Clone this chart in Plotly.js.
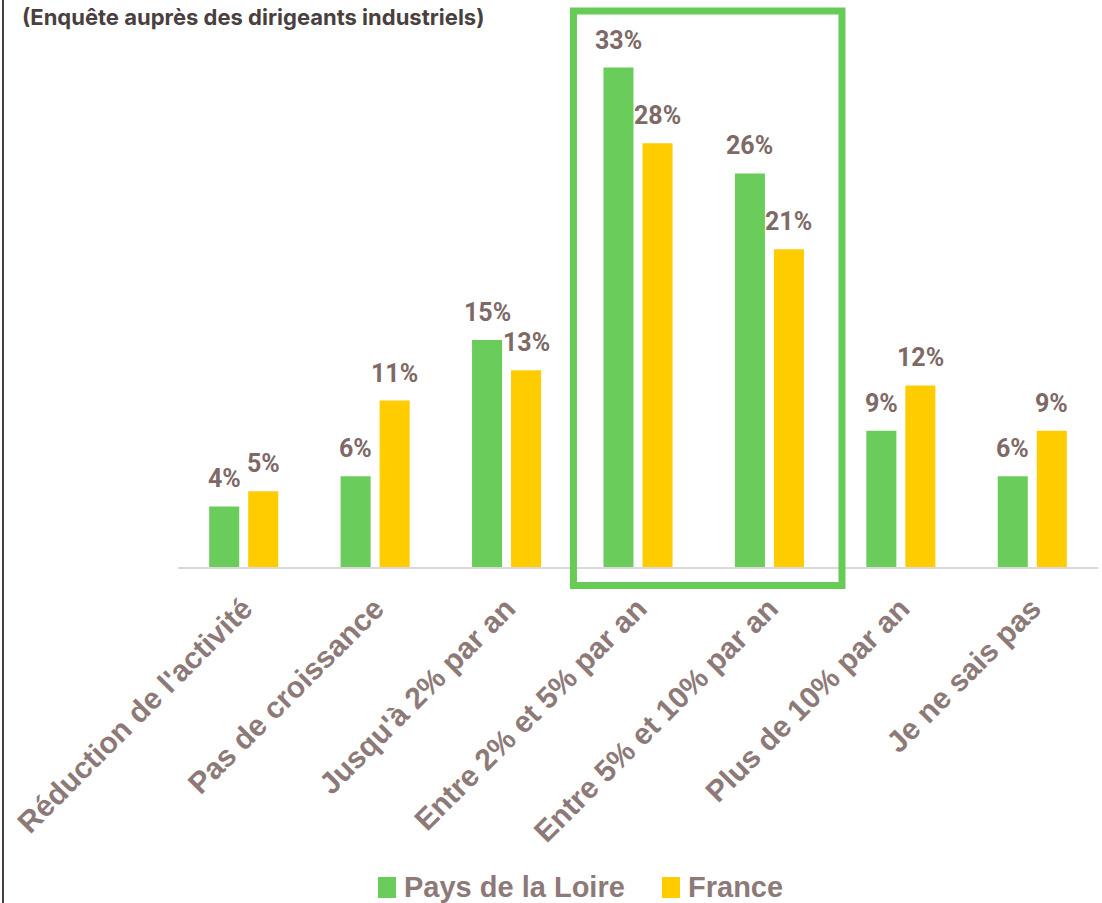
<!DOCTYPE html>
<html>
<head>
<meta charset="utf-8">
<script src="https://cdn.plot.ly/plotly-3.0.1.min.js"></script>
<style>
  html, body { margin: 0; padding: 0; background: #ffffff; }
  #chart { width: 1102px; height: 903px; }
</style>
</head>
<body>
<div id="chart"></div>
<script>
// Croissance attendue de l'activité — enquête régionale vs nationale
const categories = [
  "Réduction de l'activité",
  "Pas de croissance",
  "Jusqu'à 2% par an",
  "Entre 2% et 5% par an",
  "Entre 5% et 10% par an",
  "Plus de 10% par an",
  "Je ne sais pas"
];
const paysDeLaLoire = [4, 6, 15, 33, 26, 9, 6];
const france = [5, 11, 13, 28, 21, 12, 9];
const seriesNames = ["Pays de la Loire", "France"];
const subtitle = "(Enquête auprès des dirigeants industriels)";
const highlighted = ["Entre 2% et 5% par an", "Entre 5% et 10% par an"];

const W = 1102, H = 903;
const M = { l: 178, r: 4, t: 35, b: 336, autoexpand: false };
const plotW = W - M.l - M.r;
const plotH = H - M.t - M.b;
const yMax = 35.15;

const GREEN = '#6acd5b';
const YELLOW = '#ffcc00';
const LABEL = '#7e6967';
const TICK = '#8d7a78';
const DARK = '#4a3f3f';

const pxToPaperX = px => (px - M.l) / plotW;
const pxToPaperY = py => (M.t + plotH - py) / plotH;

const traces = [
  { type: 'bar', name: seriesNames[0], x: categories, y: paysDeLaLoire,
    marker: { color: GREEN }, hoverinfo: 'skip', showlegend: false },
  { type: 'bar', name: seriesNames[1], x: categories, y: france,
    marker: { color: YELLOW }, hoverinfo: 'skip', showlegend: false }
];

// value labels above each bar, shifted onto its slot in the group
const slotShift = 19.5;
const annotations = [];
[paysDeLaLoire, france].forEach((vals, s) => {
  vals.forEach((v, i) => {
    annotations.push({
      x: categories[i], y: v, xref: 'x', yref: 'y',
      xshift: s === 0 ? -slotShift : slotShift, yshift: 11,
      yanchor: 'bottom', showarrow: false,
      text: v + '%',
      font: { family: 'Roboto', size: 25, color: LABEL, weight: 700 }
    });
  });
});

annotations.push({
  xref: 'paper', yref: 'paper',
  x: pxToPaperX(20), y: pxToPaperY(17),
  xanchor: 'left', yanchor: 'middle', showarrow: false,
  text: '<b>' + subtitle + '</b>',
  font: { family: 'Inter', size: 22, color: DARK }
});

const i0 = categories.indexOf(highlighted[0]);
const i1 = categories.indexOf(highlighted[1]);

const shapes = [
  // frame round the two highlighted categories
  { type: 'rect', xref: 'x', yref: 'paper',
    x0: i0 - 0.491, x1: i1 + 0.552,
    y0: pxToPaperY(585.5), y1: pxToPaperY(11),
    line: { color: '#66cc55', width: 7 }, fillcolor: 'rgba(0,0,0,0)', layer: 'above' },
  // left page rule
  { type: 'line', xref: 'paper', yref: 'paper',
    x0: pxToPaperX(3), x1: pxToPaperX(3),
    y0: pxToPaperY(H), y1: pxToPaperY(0),
    line: { color: DARK, width: 2 } }
];

// legend: colour swatch followed by series name
const legendItems = [
  { name: seriesNames[0], color: GREEN, left: 378 },
  { name: seriesNames[1], color: YELLOW, left: 662 }
];
legendItems.forEach(item => {
  shapes.push({
    type: 'rect', xref: 'paper', yref: 'paper',
    x0: pxToPaperX(item.left), x1: pxToPaperX(item.left + 18),
    y0: pxToPaperY(898), y1: pxToPaperY(877),
    fillcolor: item.color, line: { width: 0 }
  });
  annotations.push({
    xref: 'paper', yref: 'paper',
    x: pxToPaperX(item.left + 24), y: pxToPaperY(887),
    xanchor: 'left', yanchor: 'middle', showarrow: false,
    text: item.name,
    font: { family: 'Liberation Sans', size: 29, color: TICK, weight: 700 }
  });
});

const layout = {
  width: W, height: H,
  margin: M,
  paper_bgcolor: '#ffffff', plot_bgcolor: '#ffffff',
  barmode: 'group', bargap: 0.406, bargroupgap: 0.23,
  showlegend: false,
  xaxis: {
    type: 'category', tickangle: -45,
    showline: true, linecolor: '#dcd8d8', linewidth: 2,
    showgrid: false, zeroline: false, ticks: '',
    ticklabelstandoff: 10,
    automargin: false,
    tickfont: { family: 'Liberation Sans', size: 30, color: TICK, weight: 700 }
  },
  yaxis: {
    range: [0, yMax], visible: false, showgrid: false, zeroline: false, fixedrange: true,
    automargin: false
  },
  annotations: annotations,
  shapes: shapes
};

Plotly.newPlot('chart', traces, layout, { displayModeBar: false, staticPlot: true });
</script>
</body>
</html>
